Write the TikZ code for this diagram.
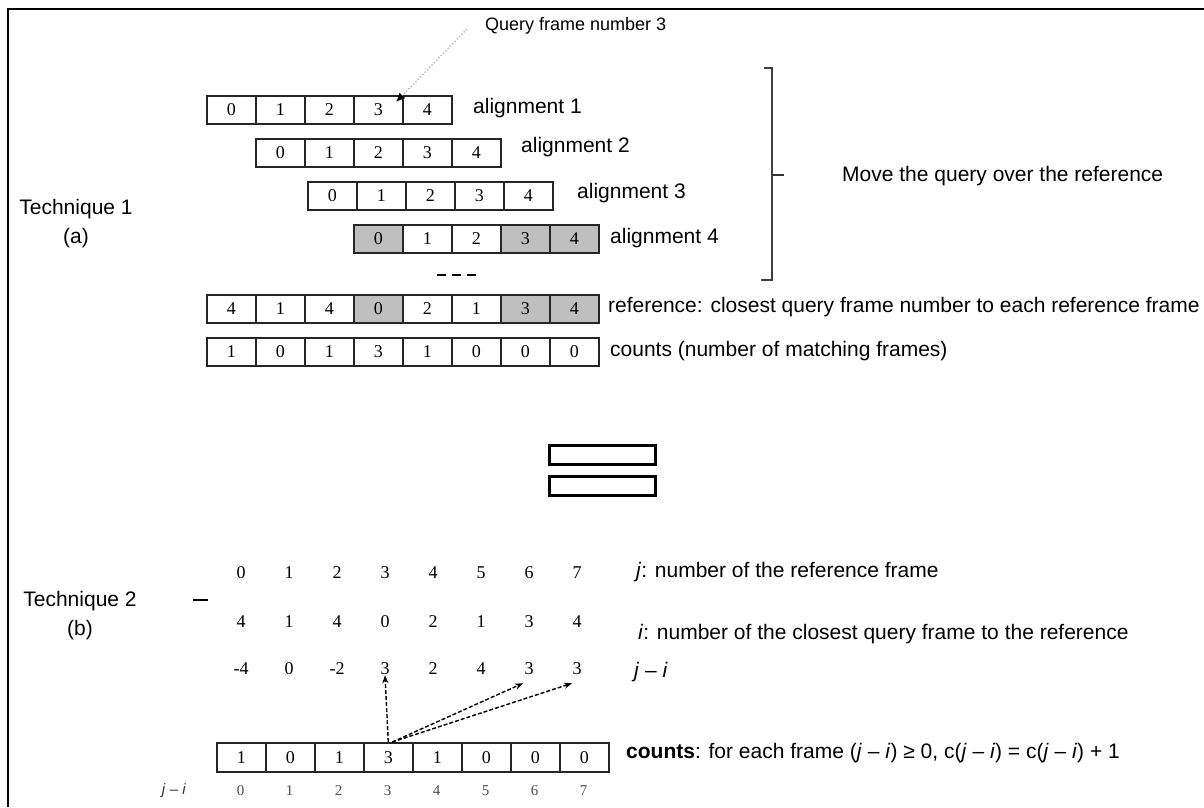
\documentclass[tikz,border=0pt]{standalone}
\usepackage{fontspec}
\setmainfont{Liberation Sans}
\newfontfamily\numfont{Liberation Serif}
\usetikzlibrary{arrows.meta}
\begin{document}
\begin{tikzpicture}[x=1pt,y=-1pt,
  cellbox/.style={draw=black!85, line width=1.6pt, minimum width=49pt, minimum height=28pt,
    inner sep=0pt, anchor=north west, font=\numfont\fontsize{18}{20}\selectfont},
  shaded/.style={cellbox, fill=gray!50},
  lbl/.style={anchor=west, inner sep=0pt, font=\fontsize{21}{25}\selectfont},
  numtxt/.style={inner sep=0pt, font=\numfont\fontsize{18}{20}\selectfont},
  smallnum/.style={inner sep=0pt, text=black!70, font=\numfont\fontsize{15}{17}\selectfont},
  headtxt/.style={align=center, inner sep=0pt, font=\fontsize{21}{29}\selectfont},
  dasharrow/.style={line width=1.4pt, dash pattern=on 4pt off 2pt, -{Stealth[length=8pt,width=6pt]}},
  eqbar/.style={draw, line width=3.2pt, minimum width=106pt, minimum height=19pt, inner sep=0pt}]
\useasboundingbox (0,0) rectangle (1204,807);

% outer frame (top and left edges)
\draw[line width=2.4pt] (1204,9) -- (8,9) -- (8,807);

% ---------- Technique 1 ----------
\node[headtxt] (tech1) at (76,224) {Technique 1\\(a)};

% query shifted over the reference
\foreach \v [count=\k from 0] in {0,1,2,3,4}
  \node[cellbox] (aA\k) at ({206+49*\k},95) {\v};
\foreach \v [count=\k from 0] in {0,1,2,3,4}
  \node[cellbox] (aB\k) at ({255+49*\k},138) {\v};
\foreach \v [count=\k from 0] in {0,1,2,3,4}
  \node[cellbox] (aC\k) at ({307+49*\k},181) {\v};
\foreach \v/\s [count=\k from 0] in {0/shaded,1/cellbox,2/cellbox,3/shaded,4/shaded}
  \node[\s] (aD\k) at ({353+49*\k},224) {\v};

\node[lbl] (alA) at (473,108) {alignment 1};
\node[lbl] (alB) at (521,147) {alignment 2};
\node[lbl] (alC) at (577,193) {alignment 3};
\node[lbl] (alD) at (610,238) {alignment 4};

% ellipsis
\coordinate (dotsL) at (437,275);
\coordinate (dotsR) at (476,275);
\draw[line width=2pt, dash pattern=on 9pt off 6pt] (dotsL) -- (dotsR);

% reference row and counts row
\foreach \v/\s [count=\k from 0] in {4/cellbox,1/cellbox,4/cellbox,0/shaded,2/cellbox,1/cellbox,3/shaded,4/shaded}
  \node[\s] (rf\k) at ({206+49*\k},294) {\v};
\foreach \v [count=\k from 0] in {1,0,1,3,1,0,0,0}
  \node[cellbox] (ct\k) at ({206+49*\k},337) {\v};

\node[lbl] (rflab) at (608,307) {reference: closest query frame number to each reference frame};
\node[lbl] (ctlab) at (610,351) {counts (number of matching frames)};

% query frame pointer
\node[lbl, font=\fontsize{18}{22}\selectfont] (qlab) at (485,26) {Query frame number 3};
\coordinate (qtail) at (467,29);
\coordinate (qtip) at (396,102);
\draw[gray!60, line width=1.3pt, dotted, -{Latex[black,length=9pt,width=8pt]}] (qtail) -- (qtip);

% bracket with its note
\coordinate (brT) at (772,68);
\coordinate (brB) at (772,280);
\coordinate (brM) at (772,175);
\draw[black!75, line width=1.3pt] ([xshift=-8pt]brT) -- (brT) -- (brB) -- ([xshift=-11pt]brB);
\draw[black!80, line width=1.6pt] (brM) -- ([xshift=12pt]brM);
\node[lbl] (movelab) at (842,176) {Move the query over the reference};

% ---------- equivalence sign ----------
\node[eqbar] (eqA) at (602.5,455) {};
\node[eqbar] (eqB) at (602.5,486) {};

% ---------- Technique 2 ----------
\node[headtxt] (tech2) at (80,616) {Technique 2\\(b)};
\draw[line width=2.4pt] (193,600) -- (208,600);

\foreach \v [count=\k from 0] in {0,1,2,3,4,5,6,7}
  \node[numtxt] (jr\k) at ({241+48*\k},573) {\v};
\foreach \v [count=\k from 0] in {4,1,4,0,2,1,3,4}
  \node[numtxt] (ir\k) at ({241+48*\k},622) {\v};
\foreach \v [count=\k from 0] in {-4,0,-2,3,2,4,3,3}
  \node[numtxt] (dr\k) at ({241+48*\k},669) {\v};

\node[lbl] (jlab) at (636,572) {\textit{j}: number of the reference frame};
\node[lbl] (ilab) at (638,634) {\textit{i}: number of the closest query frame to the reference};
\node[lbl] (dlab) at (634,672) {\textit{j} – \textit{i}};

\foreach \v [count=\k from 0] in {1,0,1,3,1,0,0,0}
  \node[cellbox, minimum height=29pt] (cb\k) at ({216+49*\k},742) {\v};
\foreach \v [count=\k from 0] in {0,1,2,3,4,5,6,7}
  \node[smallnum] (ix\k) at ({240.5+49*\k},791) {\v};
\node[inner sep=0pt, text=black!80, font=\fontsize{15}{17}\selectfont] (ixlab) at (174,791) {\textit{j} – \textit{i}};

\node[lbl] (cblab) at (626,753) {\textbf{counts}: for each frame (\textit{j} – \textit{i}) ≥ 0, c(\textit{j} – \textit{i}) = c(\textit{j} – \textit{i}) + 1};

% increments of the counts cell
\draw[dasharrow] (cb3.north) -- (dr3.south);
\draw[dasharrow] ([xshift=4pt]cb3.north) -- ([xshift=-6pt,yshift=-8pt]dr6.south);
\draw[dasharrow] ([xshift=4pt]cb3.north) -- ([xshift=-5pt,yshift=-8pt]dr7.south);
\end{tikzpicture}
\end{document}
